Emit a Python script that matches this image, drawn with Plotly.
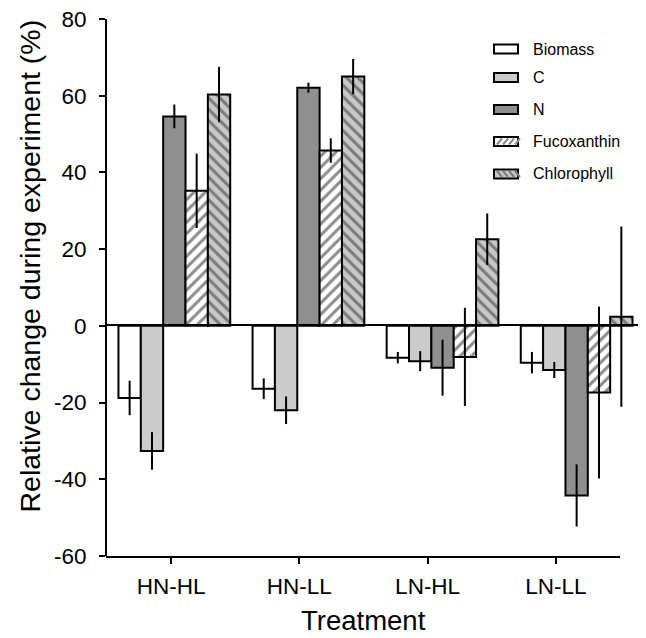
import plotly.graph_objects as go

# ---------------- data ----------------
treatments = ["HN-HL", "HN-LL", "LN-HL", "LN-LL"]
series_names = ["Biomass", "C", "N", "Fucoxanthin", "Chlorophyll"]

biomass = [-18.8, -16.4, -8.3, -9.6]
biomass_err = [4.5, 2.7, 1.5, 2.8]
carbon = [-32.6, -22.0, -9.2, -11.5]
carbon_err = [4.9, 3.6, 2.6, 2.1]
nitrogen = [54.6, 62.1, -10.9, -44.2]
nitrogen_err = [3.1, 1.3, 7.3, 8.1]
fucoxanthin = [35.2, 45.7, -8.1, -17.4]
fucoxanthin_err = [9.7, 3.2, 12.8, 22.4]
chlorophyll = [60.3, 65.0, 22.6, 2.4]
chlorophyll_err = [7.2, 4.6, 6.7, 23.5]

y_ticks = [-60, -40, -20, 0, 20, 40, 60, 80]
y_tick_labels = ["-60", "-40", "-20", "0", "20", "40", "60", "80"]

values = [biomass, carbon, nitrogen, fucoxanthin, chlorophyll]
errors = [biomass_err, carbon_err, nitrogen_err, fucoxanthin_err, chlorophyll_err]

# ---------------- styles ----------------
FONT = "Liberation Sans, Arial, Helvetica, sans-serif"
styles = [
    dict(color="#ffffff", pattern=None),
    dict(color="#cccccc", pattern=None),
    dict(color="#8f8f8f", pattern=None),
    dict(color="#ffffff", pattern=dict(shape="/", bgcolor="#ffffff", fgcolor="#8c8c8c",
                                       size=8, solidity=0.38, fillmode="replace")),
    dict(color="#c8c8c8", pattern=dict(shape="\\", bgcolor="#c8c8c8", fgcolor="#7a7a7a",
                                       size=8, solidity=0.38, fillmode="replace")),
]

# geometry (reference page pixels; the page has an 8px body margin)
OFF = 8
W, H = 646 - OFF, 638 - OFF
AX_L, AX_R = 107, 620          # drawn x-axis line extent (page px)
PLOT_R = 645                   # plot area extends further right (bars overflow the axis)
T_PG, B_PG = 19, 556
L, R, T, B = AX_L - OFF, PLOT_R - OFF, T_PG - OFF, B_PG - OFF
PX_PER_UNIT = (AX_R - AX_L) / 4.0
X_MIN = -0.5
X_MAX = X_MIN + (PLOT_R - AX_L) / PX_PER_UNIT
BAR_W = 22.35 / PX_PER_UNIT
GROUP_STEP = 6 * BAR_W
SHIFT = 0.025

def xp(px):
    # px given in page coordinates of the reference
    return (px - OFF - L) / (R - L)

def yp(py):
    return (B - (py - OFF)) / (B - T)

fig = go.Figure()
for j, (name, vals, errs, st) in enumerate(zip(series_names, values, errors, styles)):
    xs = [i * GROUP_STEP + SHIFT + (j - 2) * BAR_W for i in range(len(treatments))]
    marker = dict(color=st["color"], line=dict(color="black", width=2))
    if st["pattern"] is not None:
        marker["pattern"] = st["pattern"]
    fig.add_trace(go.Bar(
        x=xs, y=vals, width=BAR_W, name=name, marker=marker,
        error_y=dict(type="data", array=errs, visible=True, color="black",
                     thickness=2, width=0),
        cliponaxis=False, showlegend=False,
    ))

shapes = []
# bottom axis line (shorter than the plot area)
shapes.append(dict(type="line", xref="paper", yref="paper",
                   x0=xp(AX_L) - 1.0 / (R - L), x1=xp(AX_R), y0=yp(B_PG + 1), y1=yp(B_PG + 1),
                   line=dict(color="black", width=2), layer="above"))
# zero line extending past the axis
shapes.append(dict(type="line", xref="paper", yref="paper",
                   x0=0, x1=xp(643), y0=yp(325), y1=yp(325),
                   line=dict(color="black", width=2), layer="above"))

# custom legend
legend_y = [49, 77.5, 109.5, 141.5, 174]
sw_x0, sw_x1 = 494, 518
sw_h = 9
annotations = []
for j, (name, st, cy) in enumerate(zip(series_names, styles, legend_y)):
    shapes.append(dict(type="rect", xref="paper", yref="paper",
                       x0=xp(sw_x0), x1=xp(sw_x1), y0=yp(cy + sw_h / 2), y1=yp(cy - sw_h / 2),
                       fillcolor=st["color"], line=dict(color="black", width=2)))
    if st["pattern"] is not None:
        fg = st["pattern"]["fgcolor"]
        forward = st["pattern"]["shape"] == "/"
        for k in range(4):
            bx = sw_x0 + 3 + k * 6
            if forward:
                a, b = (bx, cy + sw_h / 2 - 1.5), (bx + 5, cy - sw_h / 2 + 1.5)
            else:
                a, b = (bx, cy - sw_h / 2 + 1.5), (bx + 5, cy + sw_h / 2 - 1.5)
            shapes.append(dict(type="line", xref="paper", yref="paper",
                               x0=xp(a[0]), y0=yp(a[1]), x1=xp(b[0]), y1=yp(b[1]),
                               line=dict(color=fg, width=2)))
    annotations.append(dict(text=name, xref="paper", yref="paper",
                            x=xp(531), y=yp(cy), xanchor="left", yanchor="middle",
                            showarrow=False, font=dict(family=FONT, size=16, color="black")))

# y-axis title (placed slightly above the plot centre, as in the reference)
annotations.append(dict(text="Relative change during experiment (%)", xref="paper", yref="paper",
                        x=xp(29), y=yp(266.5), xanchor="center", yanchor="middle",
                        textangle=-90, showarrow=False,
                        font=dict(family=FONT, size=28.5, color="black")))
# x-axis title centred under the drawn axis
annotations.append(dict(text="Treatment", xref="paper", yref="paper",
                        x=xp((AX_L + AX_R) / 2), y=yp(637), xanchor="center", yanchor="bottom",
                        borderpad=0, showarrow=False,
                        font=dict(family=FONT, size=27.5, color="black")))

tick_positions = list(range(len(treatments)))

fig.update_layout(
    width=W, height=H,
    margin=dict(l=L, r=W - R, t=T, b=H - B, autoexpand=False),
    paper_bgcolor="white", plot_bgcolor="white",
    barmode="overlay",
    font=dict(family=FONT, color="black"),
    shapes=shapes, annotations=annotations,
    xaxis=dict(range=[X_MIN, X_MAX], tickmode="array", tickvals=tick_positions, ticktext=treatments,
               showline=False,
               ticks="outside", ticklen=7, tickwidth=2, tickcolor="black",
               showgrid=False, zeroline=False, tickfont=dict(size=22.5),
               ticklabelstandoff=3, ticklabeloverflow="allow"),
    yaxis=dict(range=[-60, 80], tickmode="array", tickvals=y_ticks, ticktext=y_tick_labels,
               showline=True, linecolor="black", linewidth=2,
               ticks="outside", ticklen=6, tickwidth=2, tickcolor="black",
               showgrid=False, zeroline=False, tickfont=dict(size=22.5),
               ticklabelstandoff=8, ticklabeloverflow="allow"),
)

fig.write_html("out.html")
